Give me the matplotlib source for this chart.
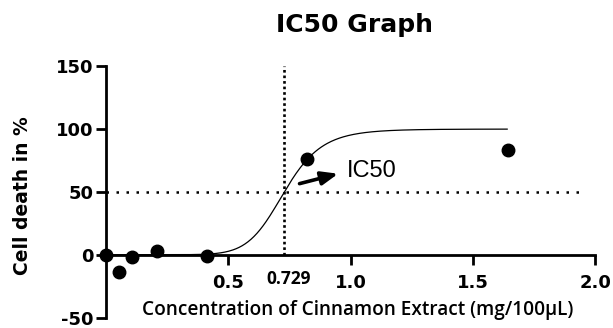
import numpy as np
import matplotlib.pyplot as plt

# data
conc = [0.0, 0.053, 0.107, 0.207, 0.413, 0.82, 1.645]
death = [0, -14, -2, 3, -1, 76, 83]

# fitted dose-response parameters
ic50 = 0.729
hill = 9.5
top = 100
bottom = 0
fit_max = 1.64

xticks = [0.5, 1.0, 1.5, 2.0]
yticks = [-50, 0, 50, 100, 150]

fig = plt.figure(figsize=(6.13, 3.28), dpi=100)
ax = fig.add_axes([0.173, 0.032, 0.798, 0.766])

xfit = np.linspace(0.001, fit_max, 400)
yfit = bottom + (top - bottom) / (1 + (ic50 / xfit) ** hill)
ax.plot(xfit, yfit, color='black', lw=0.9)
ax.plot(conc, death, 'o', color='black', markersize=9, clip_on=False, zorder=5)

# IC50 guide lines
ax.plot([ic50, ic50], [0, 150], color='black', ls=(0, (1, 1.1)), lw=1.9)
ax.plot([0, 1.96], [50, 50], color='black', ls=(0, (1, 3.0)), lw=1.8)

ax.annotate('', xy=(0.96, 65), xytext=(0.78, 56),
            arrowprops=dict(arrowstyle='-|>,head_length=1.0,head_width=0.4',
                            color='black', lw=2.6))
ax.text(0.985, 67, 'IC50', fontsize=17, va='center', ha='left', family='Liberation Sans')

ax.set_xlim(0, 2.0)
ax.set_ylim(-50, 150)
ax.spines['top'].set_visible(False)
ax.spines['right'].set_visible(False)
ax.spines['bottom'].set_position(('data', 0))
for s in ['left', 'bottom']:
    ax.spines[s].set_linewidth(2)

ax.set_xticks(xticks)
ax.set_xticklabels(['0.5', '1.0', '1.5', '2.0'], fontsize=13, fontweight='bold',
                   family='DejaVu Sans')
ax.set_yticks(yticks)
ax.set_yticklabels([str(v) for v in yticks], fontsize=13, fontweight='bold',
                   family='DejaVu Sans')
ax.tick_params(axis='both', direction='out', length=7, width=2, pad=2)
ax.tick_params(axis='x', pad=7)

ax.text(0.745, -12, '0.729', fontsize=12.5, ha='center', va='top', family='Open Sans',
        fontweight='bold')

ax.text(1.03, -44, 'Concentration of Cinnamon Extract (mg/100\u00b5L)',
        fontsize=13.7, ha='center', va='center', family='Open Sans', fontweight='semibold')

fig.text(0.037, 0.405, 'Cell death in %', rotation=90, fontsize=13.5, fontweight='bold',
         ha='center', va='center', family='DejaVu Sans')
fig.text(0.578, 0.924, 'IC50 Graph', fontsize=18, fontweight='bold', ha='center',
         va='center', family='DejaVu Sans')

fig.savefig('out.png', dpi=100)
